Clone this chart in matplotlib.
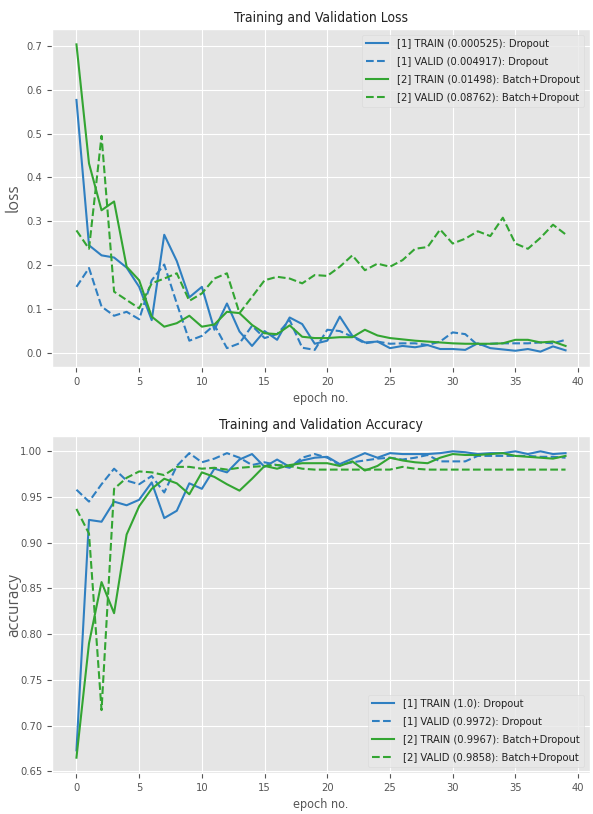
import numpy as np
import matplotlib
matplotlib.use('Agg')
import matplotlib.pyplot as plt

plt.style.use('ggplot')
plt.rcParams['font.family'] = ['Ubuntu Condensed', 'DejaVu Sans']
plt.rcParams['font.stretch'] = 'condensed'

epochs = np.arange(40)

# loss curves
loss_train_1 = [0.577, 0.245, 0.222, 0.217, 0.194, 0.150, 0.074, 0.269, 0.209, 0.126,
                0.150, 0.052, 0.112, 0.048, 0.015, 0.049, 0.029, 0.080, 0.065, 0.020,
                0.027, 0.082, 0.038, 0.023, 0.025, 0.010, 0.015, 0.012, 0.017, 0.008,
                0.008, 0.006, 0.021, 0.010, 0.007, 0.004, 0.008, 0.002, 0.014, 0.005]
loss_valid_1 = [0.150, 0.193, 0.105, 0.084, 0.093, 0.076, 0.165, 0.201, 0.112, 0.027,
                0.038, 0.063, 0.010, 0.021, 0.061, 0.033, 0.042, 0.074, 0.011, 0.006,
                0.052, 0.049, 0.036, 0.021, 0.025, 0.020, 0.021, 0.021, 0.017, 0.025,
                0.046, 0.042, 0.017, 0.020, 0.021, 0.021, 0.021, 0.023, 0.021, 0.029]
loss_train_2 = [0.704, 0.432, 0.325, 0.345, 0.196, 0.165, 0.082, 0.059, 0.067, 0.084,
                0.059, 0.064, 0.093, 0.090, 0.063, 0.044, 0.042, 0.062, 0.036, 0.033,
                0.033, 0.035, 0.035, 0.052, 0.039, 0.033, 0.030, 0.027, 0.025, 0.023,
                0.021, 0.020, 0.020, 0.020, 0.021, 0.029, 0.029, 0.023, 0.025, 0.015]
loss_valid_2 = [0.279, 0.237, 0.495, 0.139, 0.120, 0.101, 0.158, 0.169, 0.181, 0.118,
                0.135, 0.169, 0.181, 0.090, 0.127, 0.165, 0.173, 0.169, 0.158, 0.177,
                0.175, 0.196, 0.222, 0.188, 0.203, 0.196, 0.211, 0.237, 0.241, 0.281,
                0.249, 0.260, 0.277, 0.266, 0.308, 0.249, 0.237, 0.262, 0.292, 0.270]

# accuracy curves
acc_train_1 = [0.673, 0.925, 0.923, 0.945, 0.941, 0.947, 0.966, 0.927, 0.935, 0.965,
               0.959, 0.981, 0.977, 0.991, 0.997, 0.983, 0.991, 0.983, 0.990, 0.993,
               0.994, 0.986, 0.992, 0.998, 0.993, 0.998, 0.997, 0.997, 0.997, 0.998,
               1.000, 0.999, 0.997, 0.998, 0.998, 1.000, 0.997, 1.000, 0.997, 0.998]
acc_valid_1 = [0.958, 0.945, 0.964, 0.981, 0.968, 0.964, 0.973, 0.955, 0.984, 0.998,
               0.988, 0.992, 0.998, 0.993, 0.985, 0.988, 0.985, 0.982, 0.993, 0.997,
               0.993, 0.985, 0.988, 0.990, 0.992, 0.993, 0.991, 0.993, 0.996, 0.989,
               0.989, 0.989, 0.995, 0.995, 0.995, 0.995, 0.995, 0.994, 0.994, 0.993]
acc_train_2 = [0.665, 0.790, 0.857, 0.823, 0.909, 0.940, 0.959, 0.970, 0.965, 0.953,
               0.977, 0.972, 0.964, 0.957, 0.970, 0.984, 0.981, 0.985, 0.987, 0.987,
               0.987, 0.984, 0.989, 0.979, 0.984, 0.993, 0.990, 0.988, 0.987, 0.993,
               0.997, 0.996, 0.996, 0.997, 0.998, 0.995, 0.994, 0.993, 0.992, 0.995]
acc_valid_2 = [0.937, 0.910, 0.717, 0.959, 0.971, 0.978, 0.977, 0.974, 0.983, 0.983,
               0.981, 0.982, 0.980, 0.982, 0.983, 0.984, 0.985, 0.984, 0.981, 0.980,
               0.980, 0.980, 0.980, 0.980, 0.980, 0.980, 0.983, 0.981, 0.980, 0.980,
               0.980, 0.980, 0.980, 0.980, 0.980, 0.980, 0.980, 0.980, 0.980, 0.980]

loss_labels = ['[1] TRAIN (0.000525): Dropout', '[1] VALID (0.004917): Dropout',
               '[2] TRAIN (0.01498): Batch+Dropout', '[2] VALID (0.08762): Batch+Dropout']
acc_labels = ['[1] TRAIN (1.0): Dropout', '[1] VALID (0.9972): Dropout',
              '[2] TRAIN (0.9967): Batch+Dropout', '[2] VALID (0.9858): Batch+Dropout']

blue = '#2f7fc1'
green = '#33a532'

fig = plt.figure(figsize=(5.93, 8.14), dpi=100)
W, H = 593, 814
ax1 = fig.add_axes([52 / W, (H - 367) / H, (590 - 52) / W, (367 - 29) / H])
ax2 = fig.add_axes([52 / W, (H - 773) / H, (590 - 52) / W, (773 - 436) / H])

def draw(ax, series, labels, title, ylabel, loc):
    styles = [(blue, '-'), (blue, '--'), (green, '-'), (green, '--')]
    for s, lab, (c, ls) in zip(series, labels, styles):
        ax.plot(epochs, s, color=c, linestyle=ls, linewidth=1.5, label=lab)
    ax.set_title(title, fontsize=10, color='#222222', pad=5)
    ax.set_xlabel('epoch no.', fontsize=9, color='#555555')
    ax.set_ylabel(ylabel, fontsize=12, color='#555555', family='Ubuntu',
                  stretch='normal')
    ax.yaxis.set_label_coords(-0.058, 0.5)
    ax.tick_params(labelsize=8, colors='#555555')
    leg = ax.legend(loc=loc, fontsize=8, labelcolor='#222222', labelspacing=0.72)
    leg.get_frame().set_facecolor('#e8e8e8')
    leg.get_frame().set_edgecolor('#d8d8d8')

draw(ax1, [loss_train_1, loss_valid_1, loss_train_2, loss_valid_2], loss_labels,
     'Training and Validation Loss', 'loss', 'upper right')
draw(ax2, [acc_train_1, acc_valid_1, acc_train_2, acc_valid_2], acc_labels,
     'Training and Validation Accuracy', 'accuracy', 'lower right')

fig.savefig('out.png', dpi=100)
